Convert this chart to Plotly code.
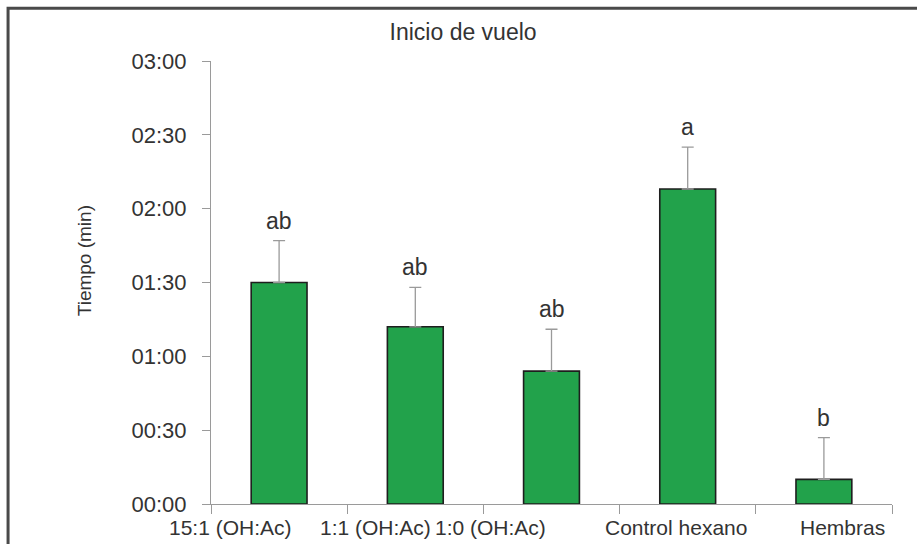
import plotly.graph_objects as go

# Flight-start time per treatment (seconds) with upper standard error
treatments = ["15:1 (OH:Ac)", "1:1 (OH:Ac)", "1:0 (OH:Ac)", "Control hexano", "Hembras"]
mean_seconds = [90, 72, 54, 128, 10]
error_seconds = [17, 16, 17, 17, 17]
group_letters = ["ab", "ab", "ab", "a", "b"]

# Y axis ticks expressed as mm:ss
tick_seconds = [0, 30, 60, 90, 120, 150, 180]
tick_labels = ["00:00", "00:30", "01:00", "01:30", "02:00", "02:30", "03:00"]

# Horizontal nudges (px) for the category labels, packed as in the original layout
label_nudge = [-49, -40, -61, -12, 19]

FONT = "Liberation Sans, Arial, sans-serif"
TEXT = "#333333"
AXIS = "#9a9a9a"

fig = go.Figure()
fig.add_trace(go.Bar(
    x=treatments,
    y=mean_seconds,
    width=0.41,
    marker=dict(color="#22a24b", line=dict(color="#1e1e1e", width=1.6)),
    error_y=dict(type="data", array=error_seconds, symmetric=False,
                 arrayminus=[0] * len(error_seconds),
                 color="#9a9a9a", thickness=1.3, width=6),
    showlegend=False,
))

# Significance letters above each error bar
for cat, m, e, lab in zip(treatments, mean_seconds, error_seconds, group_letters):
    fig.add_annotation(x=cat, y=m + e, text=lab, showarrow=False,
                       yanchor="bottom", yshift=5,
                       font=dict(family=FONT, size=23, color=TEXT))

# Category labels under the axis
for cat, dx in zip(treatments, label_nudge):
    fig.add_annotation(x=cat, y=0, text=cat, showarrow=False,
                       yanchor="top", yshift=-10, xshift=dx,
                       font=dict(family=FONT, size=21, color=TEXT))

# Y axis title
fig.add_annotation(xref="paper", yref="paper", x=-0.205, y=0.55,
                   text="Tiempo (min)", textangle=-90, showarrow=False,
                   font=dict(family=FONT, size=19, color=TEXT))

# Outer frame around the figure
fig.add_shape(type="rect", xref="paper", yref="paper",
              x0=-0.298, x1=1.2, y0=-0.3, y1=1.119,
              line=dict(color="#4a4a4a", width=3), fillcolor="rgba(0,0,0,0)",
              layer="below")

fig.update_layout(
    width=917, height=544,
    margin=dict(l=211, r=25, t=61, b=40),
    paper_bgcolor="white", plot_bgcolor="white",
    title=dict(text="Inicio de vuelo", x=0.505, xref="container", xanchor="center",
               y=1 - 32 / 544, yref="container", yanchor="middle",
               font=dict(family=FONT, size=23, color=TEXT)),
    font=dict(family=FONT, color=TEXT),
    xaxis=dict(range=[-0.5, len(treatments) - 0.5],
               showline=True, linecolor=AXIS, linewidth=1.2,
               ticks="outside", tickson="boundaries", ticklen=9, tickcolor=AXIS,
               showticklabels=False, automargin=False,
               showgrid=False, zeroline=False),
    yaxis=dict(range=[0, 180], showline=True, linecolor=AXIS, linewidth=1.2,
               tickvals=tick_seconds, ticktext=tick_labels,
               ticks="outside", ticklen=8, tickcolor=AXIS,
               ticklabelstandoff=11, automargin=False,
               tickfont=dict(family=FONT, size=22, color=TEXT),
               showgrid=False, zeroline=False),
)

fig.write_html("out.html")
